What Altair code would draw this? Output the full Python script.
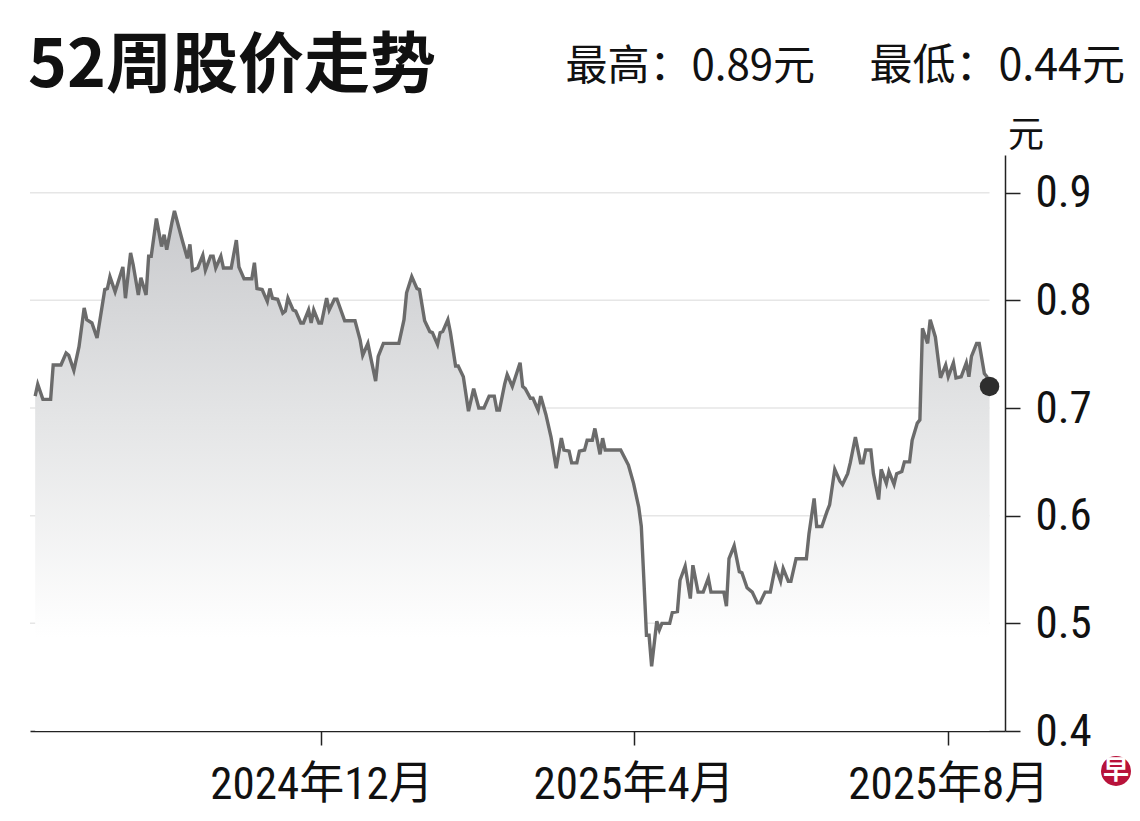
import altair as alt
import pandas as pd

# ---- data ----
dates = [
    "2024-08-12", "2024-08-13", "2024-08-15", "2024-08-18", "2024-08-19", "2024-08-22", "2024-08-24", "2024-08-25",
    "2024-08-27", "2024-08-29", "2024-08-31", "2024-09-01", "2024-09-03", "2024-09-05", "2024-09-08", "2024-09-09",
    "2024-09-10", "2024-09-12", "2024-09-15", "2024-09-16", "2024-09-18", "2024-09-19", "2024-09-21", "2024-09-22",
    "2024-09-24", "2024-09-25", "2024-09-26", "2024-09-28", "2024-09-30", "2024-10-01", "2024-10-02", "2024-10-04",
    "2024-10-05", "2024-10-08", "2024-10-10", "2024-10-11", "2024-10-12", "2024-10-14", "2024-10-16", "2024-10-17",
    "2024-10-19", "2024-10-20", "2024-10-21", "2024-10-23", "2024-10-24", "2024-10-27", "2024-10-29", "2024-10-30",
    "2024-11-01", "2024-11-04", "2024-11-05", "2024-11-06", "2024-11-08", "2024-11-10", "2024-11-11", "2024-11-12",
    "2024-11-14", "2024-11-16", "2024-11-17", "2024-11-18", "2024-11-20", "2024-11-21", "2024-11-23", "2024-11-24",
    "2024-11-26", "2024-11-27", "2024-11-28", "2024-11-30", "2024-12-01", "2024-12-03", "2024-12-04", "2024-12-06",
    "2024-12-07", "2024-12-10", "2024-12-14", "2024-12-16", "2024-12-17", "2024-12-19", "2024-12-20", "2024-12-22",
    "2024-12-23", "2024-12-25", "2024-12-31", "2025-01-02", "2025-01-03", "2025-01-05", "2025-01-07", "2025-01-08",
    "2025-01-10", "2025-01-12", "2025-01-13", "2025-01-15", "2025-01-16", "2025-01-17", "2025-01-19", "2025-01-20",
    "2025-01-22", "2025-01-23", "2025-01-25", "2025-01-27", "2025-01-29", "2025-01-31", "2025-02-02", "2025-02-04",
    "2025-02-06", "2025-02-07", "2025-02-08", "2025-02-10", "2025-02-11", "2025-02-13", "2025-02-16", "2025-02-17",
    "2025-02-18", "2025-02-20", "2025-02-21", "2025-02-23", "2025-02-24", "2025-02-26", "2025-02-28", "2025-03-02",
    "2025-03-04", "2025-03-05", "2025-03-07", "2025-03-08", "2025-03-10", "2025-03-11", "2025-03-13", "2025-03-14",
    "2025-03-16", "2025-03-17", "2025-03-19", "2025-03-20", "2025-03-21", "2025-03-27", "2025-03-30", "2025-04-01",
    "2025-04-03", "2025-04-04", "2025-04-05", "2025-04-06", "2025-04-07", "2025-04-08", "2025-04-10", "2025-04-11",
    "2025-04-12", "2025-04-15", "2025-04-16", "2025-04-18", "2025-04-19", "2025-04-21", "2025-04-23", "2025-04-24",
    "2025-04-26", "2025-04-28", "2025-04-30", "2025-05-01", "2025-05-06", "2025-05-07", "2025-05-08", "2025-05-10",
    "2025-05-12", "2025-05-13", "2025-05-15", "2025-05-17", "2025-05-19", "2025-05-20", "2025-05-22", "2025-05-24",
    "2025-05-26", "2025-05-28", "2025-05-29", "2025-05-31", "2025-06-01", "2025-06-03", "2025-06-07", "2025-06-08",
    "2025-06-10", "2025-06-11", "2025-06-13", "2025-06-15", "2025-06-16", "2025-06-18", "2025-06-20", "2025-06-21",
    "2025-06-23", "2025-06-24", "2025-06-26", "2025-06-28", "2025-06-29", "2025-06-30", "2025-07-02", "2025-07-03",
    "2025-07-05", "2025-07-06", "2025-07-08", "2025-07-09", "2025-07-11", "2025-07-12", "2025-07-14", "2025-07-15",
    "2025-07-17", "2025-07-18", "2025-07-20", "2025-07-21", "2025-07-22", "2025-07-24", "2025-07-25", "2025-07-27",
    "2025-07-29", "2025-07-31", "2025-08-01", "2025-08-03", "2025-08-04", "2025-08-06", "2025-08-08", "2025-08-09",
    "2025-08-10", "2025-08-12", "2025-08-13", "2025-08-15", "2025-08-16", "2025-08-17",
]

prices = [
    0.711, 0.722, 0.708, 0.708, 0.740, 0.740, 0.751, 0.749,
    0.735, 0.757, 0.793, 0.782, 0.779, 0.765, 0.810, 0.811,
    0.822, 0.808, 0.831, 0.802, 0.844, 0.833, 0.805, 0.821,
    0.805, 0.841, 0.841, 0.876, 0.850, 0.861, 0.847, 0.872,
    0.883, 0.856, 0.839, 0.852, 0.828, 0.830, 0.842, 0.828,
    0.841, 0.841, 0.830, 0.841, 0.830, 0.830, 0.856, 0.831,
    0.820, 0.820, 0.835, 0.811, 0.810, 0.799, 0.811, 0.802,
    0.801, 0.788, 0.790, 0.802, 0.791, 0.790, 0.779, 0.779,
    0.791, 0.779, 0.791, 0.779, 0.779, 0.802, 0.791, 0.801,
    0.801, 0.781, 0.781, 0.763, 0.749, 0.760, 0.748, 0.725,
    0.748, 0.760, 0.760, 0.782, 0.807, 0.822, 0.811, 0.810,
    0.781, 0.771, 0.770, 0.759, 0.770, 0.771, 0.782, 0.770,
    0.739, 0.739, 0.729, 0.697, 0.718, 0.700, 0.700, 0.711,
    0.711, 0.698, 0.698, 0.722, 0.731, 0.720, 0.742, 0.720,
    0.718, 0.709, 0.709, 0.698, 0.711, 0.694, 0.673, 0.644,
    0.672, 0.661, 0.660, 0.649, 0.649, 0.660, 0.661, 0.670,
    0.670, 0.681, 0.657, 0.672, 0.661, 0.661, 0.647, 0.630,
    0.608, 0.590, 0.540, 0.489, 0.489, 0.460, 0.502, 0.494,
    0.500, 0.500, 0.510, 0.511, 0.540, 0.553, 0.523, 0.554,
    0.529, 0.529, 0.542, 0.529, 0.529, 0.516, 0.560, 0.572,
    0.548, 0.547, 0.533, 0.529, 0.519, 0.519, 0.529, 0.529,
    0.553, 0.539, 0.551, 0.539, 0.539, 0.560, 0.560, 0.583,
    0.616, 0.590, 0.590, 0.604, 0.610, 0.643, 0.632, 0.629,
    0.639, 0.649, 0.673, 0.649, 0.649, 0.661, 0.661, 0.639,
    0.615, 0.643, 0.630, 0.641, 0.629, 0.639, 0.641, 0.650,
    0.650, 0.670, 0.686, 0.689, 0.774, 0.760, 0.782, 0.766,
    0.728, 0.740, 0.729, 0.742, 0.728, 0.729, 0.742, 0.729,
    0.748, 0.760, 0.760, 0.732, 0.729, 0.720,
]

grid_levels = [0.5, 0.6, 0.7, 0.8, 0.9]
y_tick_levels = [0.4, 0.5, 0.6, 0.7, 0.8, 0.9]
x_tick_dates = ["2024-12-01", "2025-04-01", "2025-08-01"]
x_domain = ["2024-08-10", "2025-08-23"]
y_domain = [0.4, 0.935]

title_text = "52周股价走势"
high_text = "最高：0.89元"
low_text = "最低：0.44元"
unit_text = "元"
logo_text = "早"

# ---- styling ----
LABEL_FONT = "Liberation Sans Narrow, Roboto Condensed, DejaVu Sans Condensed, Liberation Sans, Noto Sans CJK SC"
CJK_FONT = "Noto Sans CJK SC"
TEXT_COLOR = "#111111"


def to_dt(s):
    y, m, d = (int(p) for p in s.split("-"))
    return alt.DateTime(year=y, month=m, date=d, utc=True)


df = pd.DataFrame({"date": dates, "price": prices})
last_df = df.tail(1)
grid_df = pd.DataFrame({"date": x_domain[0], "x1": dates[-1], "price": grid_levels})

x_scale = alt.Scale(type="utc", domain=[to_dt(s) for s in x_domain])
y_scale = alt.Scale(domain=y_domain, zero=False, nice=False)

x_axis = alt.Axis(
    values=[to_dt(s) for s in x_tick_dates],
    labelExpr="utcFormat(datum.value, '%Y') + '年' + utcFormat(datum.value, '%-m') + '月'",
    title=None,
    grid=False,
    domainColor="#222222",
    domainWidth=1.5,
    tickColor="#222222",
    tickWidth=1.5,
    tickSize=14,
    labelFont=LABEL_FONT,
    labelFontSize=45,
    labelColor=TEXT_COLOR,
    labelPadding=17,
    labelFlush=False,
    labelLimit=500,
    labelOverlap=False,
)
y_axis = alt.Axis(
    orient="right",
    values=y_tick_levels,
    format=".1f",
    title=None,
    grid=False,
    domainColor="#222222",
    domainWidth=1.5,
    tickColor="#222222",
    tickWidth=1.5,
    tickSize=15,
    labelFont=LABEL_FONT,
    labelFontSize=45,
    labelColor=TEXT_COLOR,
    labelPadding=15,
    labelBaseline="middle",
)

X = alt.X("date:T", scale=x_scale, axis=x_axis)
Y = alt.Y("price:Q", scale=y_scale, axis=y_axis)

grid = alt.Chart(grid_df).mark_rule(color="#e6e6e6", strokeWidth=1.5).encode(
    x=X, x2="x1:T", y=Y,
)

area = alt.Chart(df).mark_area(
    color=alt.Gradient(
        gradient="linear",
        stops=[
            alt.GradientStop(color="#c9cacd", offset=0),
            alt.GradientStop(color="#e4e5e6", offset=0.4),
            alt.GradientStop(color="#ffffff", offset=0.82),
        ],
        x1=0, x2=0, y1=0, y2=1,
    )
).encode(x=X, y=Y, y2=alt.datum(y_domain[0]))

line = alt.Chart(df).mark_line(color="#6b6b6b", strokeWidth=3.4).encode(x=X, y=Y)

dot = alt.Chart(last_df).mark_circle(color="#2e2e2e", opacity=1, size=380).encode(x=X, y=Y)

title = alt.Chart(pd.DataFrame({"t": [title_text]})).mark_text(
    font=CJK_FONT, fontSize=66, fontWeight="bold", color=TEXT_COLOR, align="left", baseline="alphabetic"
).encode(x=alt.value(-2), y=alt.value(-68), text="t:N")

high = alt.Chart(pd.DataFrame({"t": [high_text]})).mark_text(
    font=CJK_FONT, fontSize=42, color=TEXT_COLOR, align="right", baseline="alphabetic"
).encode(x=alt.value(785), y=alt.value(-75), text="t:N")

low = alt.Chart(pd.DataFrame({"t": [low_text]})).mark_text(
    font=CJK_FONT, fontSize=43, color=TEXT_COLOR, align="right", baseline="alphabetic"
).encode(x=alt.value(1095), y=alt.value(-75), text="t:N")

unit = alt.Chart(pd.DataFrame({"t": [unit_text]})).mark_text(
    font=CJK_FONT, fontSize=36, color=TEXT_COLOR, align="center", baseline="alphabetic"
).encode(x=alt.value(996), y=alt.value(-8), text="t:N")

logo_bg = alt.Chart(pd.DataFrame({"t": [logo_text]})).mark_circle(
    color="#b8123a", opacity=1, size=900
).encode(x=alt.value(1086), y=alt.value(616))

logo = alt.Chart(pd.DataFrame({"t": [logo_text]})).mark_text(
    font=CJK_FONT, fontSize=26, fontWeight="bold", color="#ffffff", align="center", baseline="middle"
).encode(x=alt.value(1086), y=alt.value(616), text="t:N")

chart = alt.layer(grid, area, line, dot, title, high, low, unit, logo_bg, logo).properties(
    width=975,
    height=576,
    autosize=alt.AutoSizeParams(type="none"),
    padding={"left": 22, "top": 147, "right": 127, "bottom": 82},
).configure_view(strokeWidth=0)

chart.save("out.html", embed_options={"renderer": "svg", "actions": False})
